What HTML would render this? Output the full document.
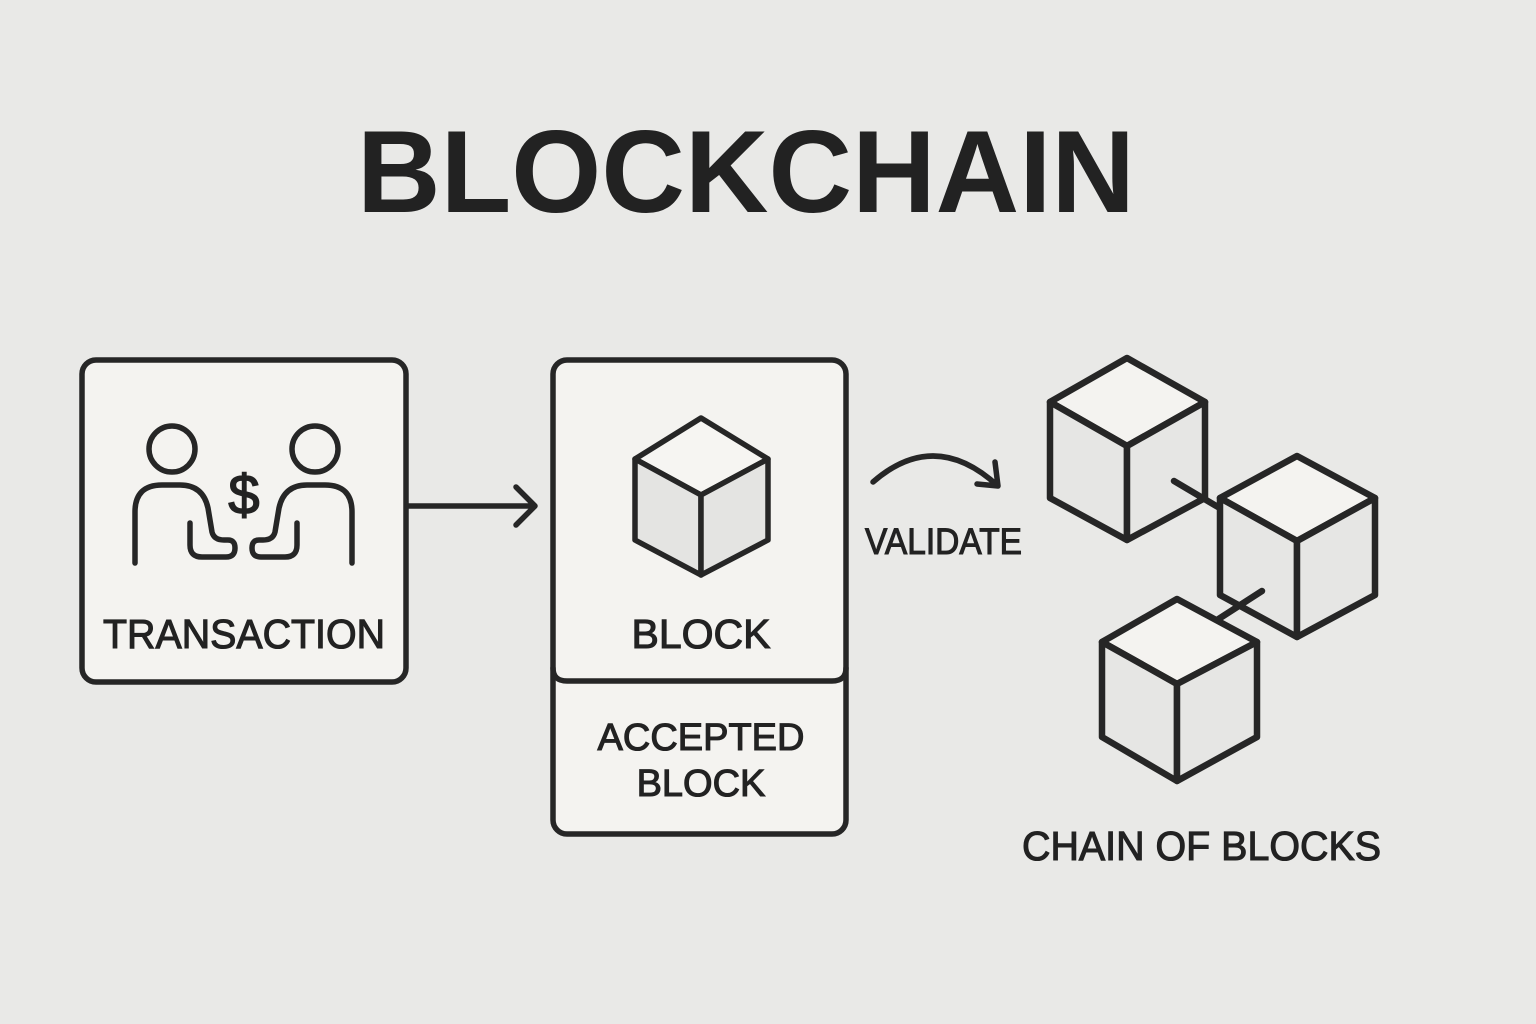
<!DOCTYPE html>
<html><head><meta charset="utf-8"><style>
html,body{margin:0;padding:0;background:#e9e9e7;}
svg{display:block}
text{font-family:"Liberation Sans",sans-serif;fill:#222;}
.m{stroke:#222;stroke-width:1.1px;}
</style></head><body>
<svg width="1536" height="1024" viewBox="0 0 1536 1024" xmlns="http://www.w3.org/2000/svg">
<rect width="1536" height="1024" fill="#e9e9e7"/>
<text x="357" y="212" font-size="117" font-weight="bold" textLength="778" lengthAdjust="spacingAndGlyphs">BLOCKCHAIN</text>

<g fill="none" stroke="#262626" stroke-width="5.5" stroke-linecap="round" stroke-linejoin="round">
<rect x="82" y="360" width="324" height="322" rx="14" fill="#f4f3f0"/>
<circle cx="172" cy="449" r="23"/>
<circle cx="315" cy="449" r="23"/>
<path d="M135,563 V512 Q135,485 162,485 H180 Q203,485 208,508 L212,532 Q214,540 224,540 H228 Q235,540 235,548 Q235,557 226,557 H202 Q190,557 190,545 V523"/>
<path d="M352,563 V512 Q352,485 325,485 H307 Q284,485 279,508 L275,532 Q273,540 263,540 H259 Q252,540 252,548 Q252,557 261,557 H285 Q297,557 297,545 V523"/>
<path d="M408,506 H535 M516,487 L535,506 L516,525"/>
<rect x="553" y="360" width="293" height="474" rx="14" fill="#f4f3f0"/>
<path d="M553,668 Q553,681 567,681 H832 Q846,681 846,668"/>
<path d="M701,418 L768,459 L701,495 L635,459 Z" fill="#f6f5f2"/>
<path d="M635,459 L701,495 L701,575 L635,540 Z" fill="#e4e4e2"/>
<path d="M768,459 L701,495 L701,575 L768,540 Z" fill="#e4e4e2"/>
<path d="M873,482 Q935,428 998,486 M995,462 L998,486 L977,484"/>
<g stroke-width="6.5">
<path d="M1127,358 L1205,402 L1127,446 L1050,402 Z" fill="#f4f3f0"/>
<path d="M1050,402 L1127,446 L1127,540 L1050,498 Z" fill="#e6e6e4"/>
<path d="M1205,402 L1127,446 L1127,540 L1205,498 Z" fill="#e6e6e4"/>
<path d="M1297,456 L1375,498 L1297,541 L1220,498 Z" fill="#f4f3f0"/>
<path d="M1220,498 L1297,541 L1297,637 L1220,595 Z" fill="#e6e6e4"/>
<path d="M1375,498 L1297,541 L1297,637 L1375,595 Z" fill="#e6e6e4"/>
<path d="M1177,599 L1257,642 L1177,684 L1102,642 Z" fill="#f4f3f0"/>
<path d="M1102,642 L1177,684 L1177,781 L1102,737 Z" fill="#e6e6e4"/>
<path d="M1257,642 L1177,684 L1177,781 L1257,737 Z" fill="#e6e6e4"/>
<path d="M1174,481 L1218,507"/>
<path d="M1262,591 L1217,620"/>
</g>
</g>
<text class="m" x="244" y="514" font-size="56" text-anchor="middle" style="stroke-width:1.5px">$</text>
<text class="m" x="103" y="648" font-size="41" textLength="282" lengthAdjust="spacingAndGlyphs">TRANSACTION</text>
<text class="m" x="701" y="648" font-size="41" text-anchor="middle">BLOCK</text>
<text class="m" x="701" y="750" font-size="38" text-anchor="middle">ACCEPTED</text>
<text class="m" x="701" y="796" font-size="38" text-anchor="middle">BLOCK</text>
<text class="m" x="865" y="554" font-size="37" textLength="157" lengthAdjust="spacingAndGlyphs">VALIDATE</text>
<text class="m" x="1022" y="860" font-size="41" textLength="359" lengthAdjust="spacingAndGlyphs">CHAIN OF BLOCKS</text>
</svg>
</body></html>
